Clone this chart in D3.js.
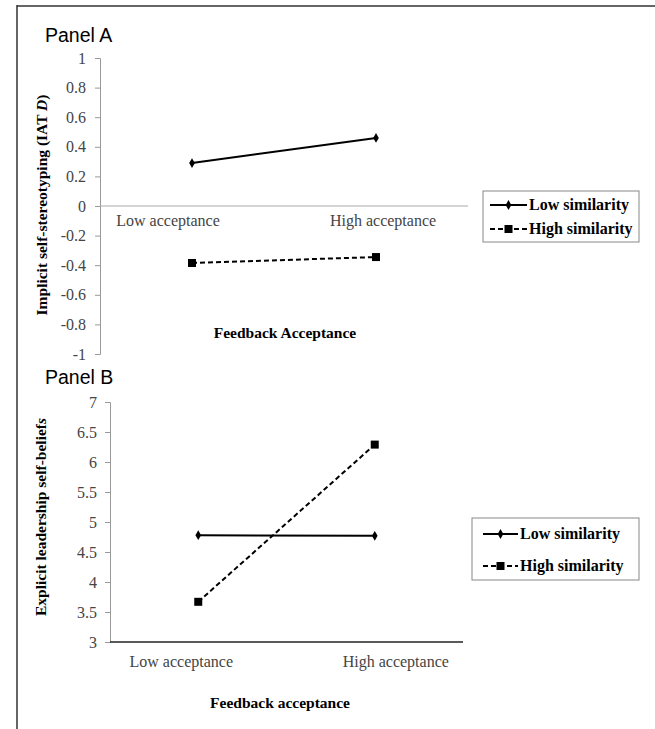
<!DOCTYPE html>
<html><head><meta charset="utf-8">
<script src="https://cdn.jsdelivr.net/npm/d3@7"></script>
<style>
body{margin:0;background:#fff;}
svg{display:block;}
</style></head>
<body>
<svg id="c" width="655" height="729"></svg>
<script>
// Data
const categories = ["Low acceptance", "High acceptance"];
const seriesNames = ["Low similarity", "High similarity"];
const panelA_low = [0.29, 0.46];
const panelA_high = [-0.385, -0.345];
const panelB_low = [4.78, 4.77];
const panelB_high = [3.67, 6.29];
const ticksA = [1, 0.8, 0.6, 0.4, 0.2, 0, -0.2, -0.4, -0.6, -0.8, -1];
const ticksB = [7, 6.5, 6, 5.5, 5, 4.5, 4, 3.5, 3];

const svg = d3.select("#c");
const serif = "'Liberation Serif','Times New Roman',serif";
const sans = "'Liberation Sans',Arial,sans-serif";

// frame
svg.append("line").attr("x1",17).attr("x2",655).attr("y1",6).attr("y2",6).attr("stroke","#666").attr("stroke-width",2);
svg.append("line").attr("x1",17).attr("x2",17).attr("y1",5).attr("y2",729).attr("stroke","#333").attr("stroke-width",1.5);

function panel(cfg){
  const g = svg.append("g");
  const y = d3.scaleLinear().domain(cfg.domain).range([cfg.yBottom, cfg.yTop]);
  const x = d3.scaleBand().domain(categories).range([cfg.xLeft, cfg.xRight]);
  // y axis
  const ya = d3.axisLeft(y).tickValues(cfg.ticks).tickSize(5).tickPadding(cfg.tickPad)
     .tickFormat(d => String(d));
  const yg = g.append("g").attr("transform",`translate(${cfg.xLeft},0)`).call(ya);
  yg.select(".domain").attr("stroke","#999");
  yg.selectAll(".tick line").attr("stroke","#999");
  yg.selectAll(".tick text").attr("font-family",serif).attr("font-size",16).attr("fill","#444");
  // x axis line
  g.append("line").attr("x1",cfg.xLeft).attr("x2",cfg.xRight)
    .attr("y1",y(cfg.xCross)).attr("y2",y(cfg.xCross))
    .attr("stroke",cfg.xAxisColor).attr("stroke-width",cfg.xAxisWidth);
  // category labels
  g.selectAll("text.cat").data(categories).enter().append("text")
    .attr("x",(d,i)=>x(d)+x.bandwidth()/2+cfg.labelDx[i])
    .attr("y",y(cfg.xCross)+cfg.labelDy)
    .attr("text-anchor","middle").attr("font-family",serif).attr("font-size",16).attr("fill","#444")
    .text(d=>d);
  const cx = d => x(d)+x.bandwidth()/2;
  const line = d3.line().x((d,i)=>cx(categories[i])).y(d=>y(d));
  // series
  g.append("path").datum(cfg.low).attr("d",line).attr("fill","none").attr("stroke","#000").attr("stroke-width",2);
  g.append("path").datum(cfg.high).attr("d",line).attr("fill","none").attr("stroke","#000").attr("stroke-width",2).attr("stroke-dasharray","5,3");
  g.selectAll("path.dm").data(cfg.low).enter().append("path")
    .attr("transform",(d,i)=>`translate(${cx(categories[i])},${y(d)})`)
    .attr("d",d3.symbol(d3.symbolDiamond,28)).attr("fill","#000");
  g.selectAll("rect.sq").data(cfg.high).enter().append("rect")
    .attr("x",(d,i)=>cx(categories[i])-4).attr("y",d=>y(d)-4).attr("width",8).attr("height",8).attr("fill","#000");
  // panel title
  g.append("text").attr("x",45).attr("y",cfg.titleY).attr("font-family",sans).attr("font-size",19.5).attr("fill","#000").text(cfg.title);
  // y label
  const yl = g.append("text").attr("transform",`translate(${cfg.yLabelX},${cfg.yLabelY}) rotate(-90)`)
    .attr("text-anchor","middle").attr("font-family",serif).attr("font-size",15.5).attr("font-weight","bold").attr("fill","#000");
  cfg.yLabel.forEach(p => yl.append("tspan").attr("font-style",p[1]?"italic":"normal").text(p[0]));
  // x title
  g.append("text").attr("x",cfg.xTitleX).attr("y",cfg.xTitleY).attr("text-anchor","middle")
    .attr("font-family",serif).attr("font-size",15.5).attr("font-weight","bold").attr("fill","#000").text(cfg.xTitle);
  // legend
  const L = cfg.legend;
  g.append("rect").attr("x",L.x).attr("y",L.y).attr("width",L.w).attr("height",L.h)
    .attr("fill","#fff").attr("stroke","#888").attr("stroke-width",1);
  seriesNames.forEach((s,i)=>{
    const ly = L.y + L.rowY[i];
    g.append("line").attr("x1",L.x+L.lx0).attr("x2",L.x+L.lx1).attr("y1",ly).attr("y2",ly)
      .attr("stroke","#000").attr("stroke-width",2).attr("stroke-dasharray", i? "5,3":null);
    const mx = L.x+(L.lx0+L.lx1)/2;
    if(i===0) g.append("path").attr("transform",`translate(${mx},${ly})`).attr("d",d3.symbol(d3.symbolDiamond,28)).attr("fill","#000");
    else g.append("rect").attr("x",mx-4).attr("y",ly-4).attr("width",8).attr("height",8).attr("fill","#000");
    g.append("text").attr("x",L.x+L.lx1+2).attr("y",ly+5).attr("font-family",serif).attr("font-size",16)
      .attr("font-weight","bold").attr("fill","#000").text(s);
  });
}

panel({
  domain:[-1,1], ticks:ticksA, yTop:58, yBottom:354, xLeft:100, xRight:468, xCross:0, tickPad:9,
  xAxisColor:"#aaa", xAxisWidth:1.2, labelDx:[-24,7], labelDy:20,
  low:panelA_low, high:panelA_high, title:"Panel A", titleY:42,
  yLabel:[["Implicit self-stereotyping (IAT ",false],["D",true],[")",false]], yLabelX:47, yLabelY:205,
  xTitle:"Feedback Acceptance", xTitleX:285, xTitleY:338,
  legend:{x:483,y:191,w:156,h:51,rowY:[14,38],lx0:7,lx1:44}
});
panel({
  domain:[3,7], ticks:ticksB, yTop:402, yBottom:642, xLeft:110, xRight:463, xCross:3, tickPad:8,
  xAxisColor:"#222", xAxisWidth:1.5, labelDx:[-17,21], labelDy:25,
  low:panelB_low, high:panelB_high, title:"Panel B", titleY:384,
  yLabel:[["Explicit leadership self-belief",false],["s",true]], yLabelX:46, yLabelY:517,
  xTitle:"Feedback acceptance", xTitleX:280, xTitleY:708,
  legend:{x:472,y:518,w:167,h:62,rowY:[16,48],lx0:11,lx1:46}
});
</script>
</body></html>
